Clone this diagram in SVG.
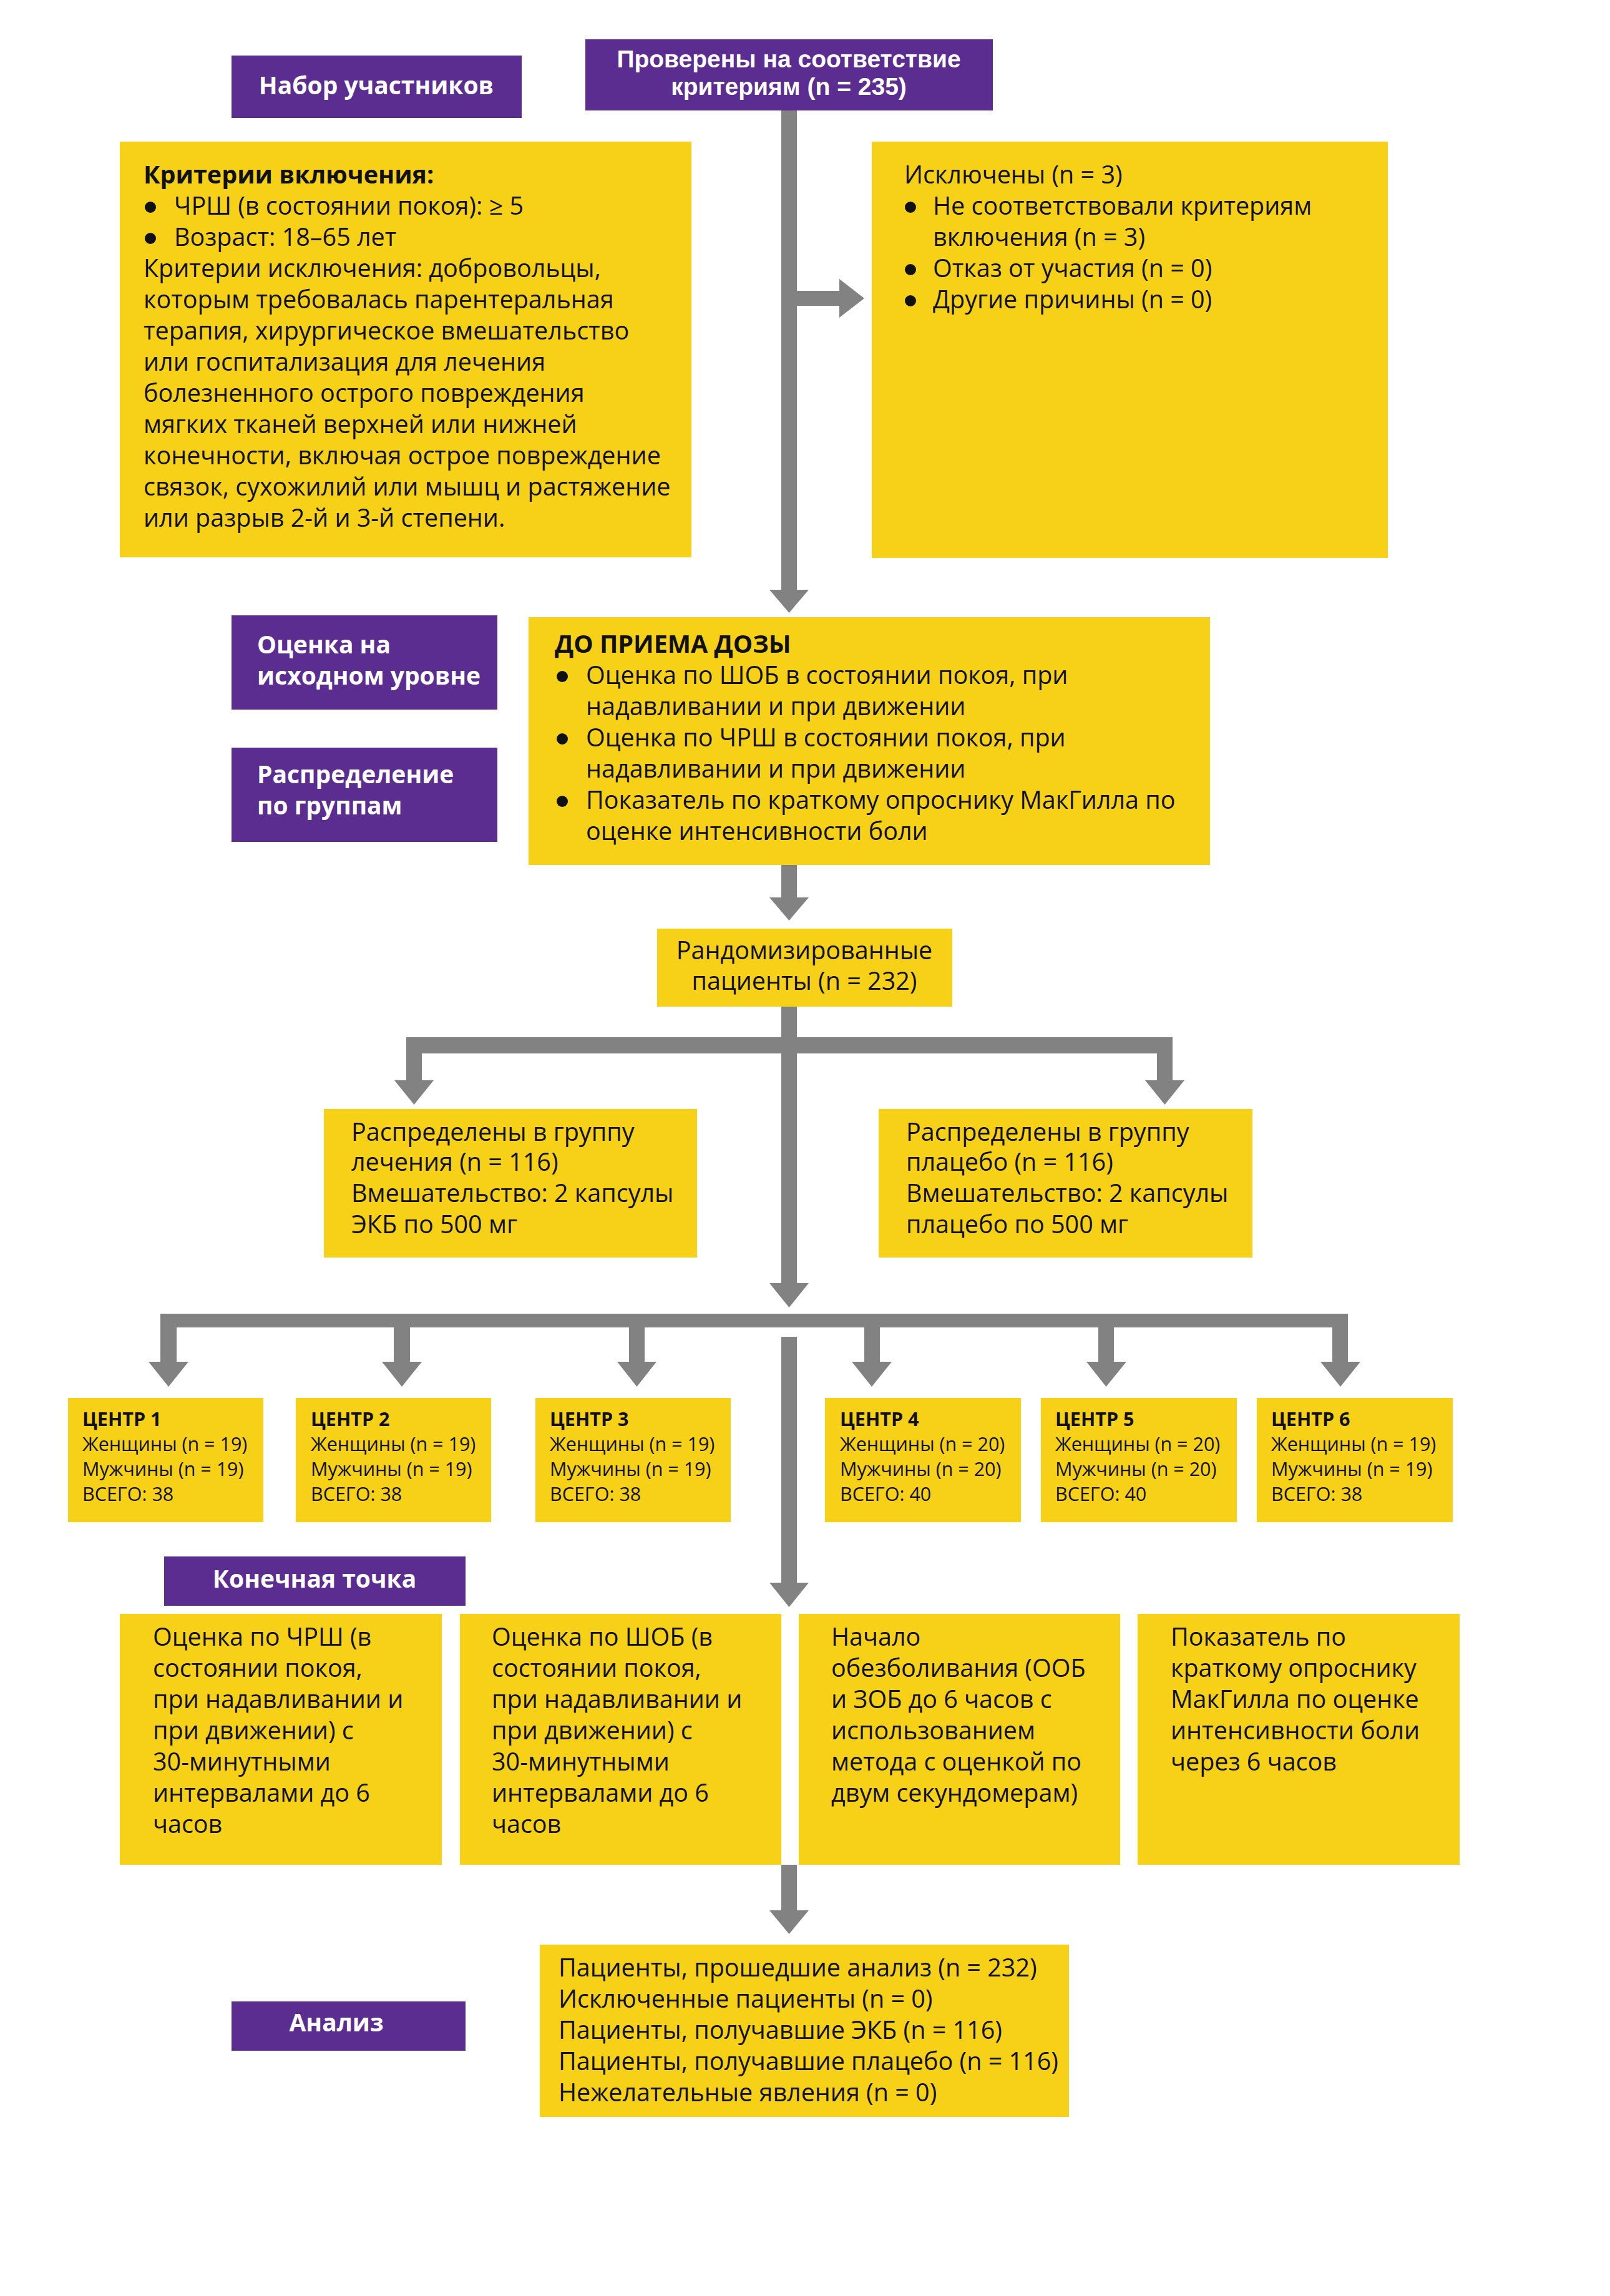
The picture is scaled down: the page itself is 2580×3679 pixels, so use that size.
<svg xmlns="http://www.w3.org/2000/svg" width="2580" height="3679" viewBox="0 0 2580 3679">
<style>
.bg{fill:#ffffff}
.yb{fill:#F7D117}
.pb{fill:#5C2D91}
.con{fill:#828282}
.t{font-family:"Open Sans","Liberation Sans",sans-serif;font-size:39.5px;fill:#111111}
.b{font-weight:bold}
.w{font-family:"Open Sans","Liberation Sans",sans-serif;font-size:39px;font-weight:bold;fill:#ffffff}
.wh{font-family:"Liberation Sans","Open Sans",sans-serif;font-size:39px}
.c{text-anchor:middle}
.s{font-family:"Open Sans","Liberation Sans",sans-serif;font-size:30.5px;fill:#111111}
.bul{fill:#111111}
</style>
<rect class="bg" x="0" y="0" width="2580" height="3679"/>

<g id="connectors">
  <rect class="con" x="1252" y="177" width="25" height="768"/>
  <polygon class="con" points="1233,945 1296,945 1264.5,982"/>
  <rect class="con" x="1277" y="466" width="68" height="24"/>
  <polygon class="con" points="1345,447 1345,509 1385,478"/>
  <rect class="con" x="1252" y="1386" width="25" height="52"/>
  <polygon class="con" points="1233,1438 1296,1438 1264.5,1475"/>
  <rect class="con" x="1252" y="1613" width="25" height="443"/>
  <polygon class="con" points="1233,2056 1296,2056 1264.5,2095"/>
  <rect class="con" x="651" y="1662" width="1228" height="26"/>
  <rect class="con" x="651" y="1688" width="25" height="43"/>
  <polygon class="con" points="632,1731 695,1731 663.5,1770"/>
  <rect class="con" x="1854" y="1688" width="25" height="43"/>
  <polygon class="con" points="1835,1731 1898,1731 1866.5,1770"/>
  <rect class="con" x="257" y="2105" width="1903" height="22"/>
  <rect class="con" x="257" y="2127" width="26" height="55"/>
  <polygon class="con" points="238,2182 302,2182 270,2222"/>
  <rect class="con" x="631" y="2127" width="26" height="55"/>
  <polygon class="con" points="612,2182 676,2182 644,2222"/>
  <rect class="con" x="1008" y="2127" width="25" height="55"/>
  <polygon class="con" points="989,2182 1052,2182 1020.5,2222"/>
  <rect class="con" x="1385" y="2127" width="25" height="55"/>
  <polygon class="con" points="1365,2182 1429,2182 1397,2222"/>
  <rect class="con" x="1760" y="2127" width="25" height="55"/>
  <polygon class="con" points="1741,2182 1805,2182 1772.5,2222"/>
  <rect class="con" x="2135" y="2127" width="25" height="55"/>
  <polygon class="con" points="2116,2182 2180,2182 2148,2222"/>
  <rect class="con" x="1252" y="2142" width="25" height="394"/>
  <polygon class="con" points="1233,2536 1296,2536 1264.5,2575"/>
  <rect class="con" x="1252" y="2988" width="25" height="73"/>
  <polygon class="con" points="1233,3061 1296,3061 1264.5,3099"/>
</g>

<g id="label-recruit">
  <rect class="pb" x="371" y="89" width="465" height="100"/>
  <text class="w c" x="603" y="151">Набор участников</text>
</g>

<g id="screened">
  <rect class="pb" x="938" y="63" width="653" height="114"/>
  <text class="w wh c" x="1264" y="108">Проверены на соответствие</text>
  <text class="w wh c" x="1264" y="152">критериям (n = 235)</text>
</g>

<g id="criteria">
  <rect class="yb" x="192" y="227" width="916" height="666"/>
  <text class="t b" x="230" y="294">Критерии включения:</text>
  <circle class="bul" cx="241" cy="332" r="9"/>
  <text class="t" x="279" y="344">ЧРШ (в состоянии покоя): ≥ 5</text>
  <circle class="bul" cx="241" cy="382" r="9"/>
  <text class="t" x="279" y="394">Возраст: 18–65 лет</text>
  <text class="t" x="230" y="444">Критерии исключения: добровольцы,</text>
  <text class="t" x="230" y="494">которым требовалась парентеральная</text>
  <text class="t" x="230" y="544">терапия, хирургическое вмешательство</text>
  <text class="t" x="230" y="594">или госпитализация для лечения</text>
  <text class="t" x="230" y="644">болезненного острого повреждения</text>
  <text class="t" x="230" y="694">мягких тканей верхней или нижней</text>
  <text class="t" x="230" y="744">конечности, включая острое повреждение</text>
  <text class="t" x="230" y="794">связок, сухожилий или мышц и растяжение</text>
  <text class="t" x="230" y="844">или разрыв 2-й и 3-й степени.</text>
</g>

<g id="excluded">
  <rect class="yb" x="1397" y="227" width="827" height="667"/>
  <text class="t" x="1449" y="294">Исключены (n = 3)</text>
  <circle class="bul" cx="1459" cy="332" r="9"/>
  <text class="t" x="1495" y="344">Не соответствовали критериям</text>
  <text class="t" x="1495" y="394">включения (n = 3)</text>
  <circle class="bul" cx="1459" cy="432" r="9"/>
  <text class="t" x="1495" y="444">Отказ от участия (n = 0)</text>
  <circle class="bul" cx="1459" cy="482" r="9"/>
  <text class="t" x="1495" y="494">Другие причины (n = 0)</text>
</g>

<g id="label-baseline">
  <rect class="pb" x="371" y="986" width="426" height="151"/>
  <text class="w" x="412" y="1047">Оценка на</text>
  <text class="w" x="412" y="1097">исходном уровне</text>
</g>

<g id="label-allocation">
  <rect class="pb" x="371" y="1198" width="426" height="151"/>
  <text class="w" x="412" y="1255">Распределение</text>
  <text class="w" x="412" y="1305">по группам</text>
</g>

<g id="predose">
  <rect class="yb" x="847" y="989" width="1092" height="397"/>
  <text class="t b" x="889" y="1046">ДО ПРИЕМА ДОЗЫ</text>
  <circle class="bul" cx="901" cy="1084" r="9"/>
  <text class="t" x="939" y="1096">Оценка по ШОБ в состоянии покоя, при</text>
  <text class="t" x="939" y="1146">надавливании и при движении</text>
  <circle class="bul" cx="901" cy="1184" r="9"/>
  <text class="t" x="939" y="1196">Оценка по ЧРШ в состоянии покоя, при</text>
  <text class="t" x="939" y="1246">надавливании и при движении</text>
  <circle class="bul" cx="901" cy="1284" r="9"/>
  <text class="t" x="939" y="1296">Показатель по краткому опроснику МакГилла по</text>
  <text class="t" x="939" y="1346">оценке интенсивности боли</text>
</g>

<g id="randomized">
  <rect class="yb" x="1053" y="1488" width="473" height="125"/>
  <text class="t c" x="1289" y="1537">Рандомизированные</text>
  <text class="t c" x="1289" y="1586">пациенты (n = 232)</text>
</g>

<g id="treatment">
  <rect class="yb" x="519" y="1777" width="598" height="238"/>
  <text class="t" x="563" y="1828">Распределены в группу</text>
  <text class="t" x="563" y="1876">лечения (n = 116)</text>
  <text class="t" x="563" y="1926">Вмешательство: 2 капсулы</text>
  <text class="t" x="563" y="1976">ЭКБ по 500 мг</text>
</g>

<g id="placebo">
  <rect class="yb" x="1408" y="1777" width="599" height="238"/>
  <text class="t" x="1452" y="1828">Распределены в группу</text>
  <text class="t" x="1452" y="1876">плацебо (n = 116)</text>
  <text class="t" x="1452" y="1926">Вмешательство: 2 капсулы</text>
  <text class="t" x="1452" y="1976">плацебо по 500 мг</text>
</g>

<g id="center1">
  <rect class="yb" x="109" y="2240" width="313" height="199"/>
  <text class="s b" x="132" y="2285">ЦЕНТР 1</text>
  <text class="s" x="132" y="2325">Женщины (n = 19)</text>
  <text class="s" x="132" y="2365">Мужчины (n = 19)</text>
  <text class="s" x="132" y="2405">ВСЕГО: 38</text>
</g>
<g id="center2">
  <rect class="yb" x="474" y="2240" width="313" height="199"/>
  <text class="s b" x="498" y="2285">ЦЕНТР 2</text>
  <text class="s" x="498" y="2325">Женщины (n = 19)</text>
  <text class="s" x="498" y="2365">Мужчины (n = 19)</text>
  <text class="s" x="498" y="2405">ВСЕГО: 38</text>
</g>
<g id="center3">
  <rect class="yb" x="858" y="2240" width="313" height="199"/>
  <text class="s b" x="881" y="2285">ЦЕНТР 3</text>
  <text class="s" x="881" y="2325">Женщины (n = 19)</text>
  <text class="s" x="881" y="2365">Мужчины (n = 19)</text>
  <text class="s" x="881" y="2405">ВСЕГО: 38</text>
</g>
<g id="center4">
  <rect class="yb" x="1322" y="2240" width="314" height="199"/>
  <text class="s b" x="1346" y="2285">ЦЕНТР 4</text>
  <text class="s" x="1346" y="2325">Женщины (n = 20)</text>
  <text class="s" x="1346" y="2365">Мужчины (n = 20)</text>
  <text class="s" x="1346" y="2405">ВСЕГО: 40</text>
</g>
<g id="center5">
  <rect class="yb" x="1668" y="2240" width="314" height="199"/>
  <text class="s b" x="1691" y="2285">ЦЕНТР 5</text>
  <text class="s" x="1691" y="2325">Женщины (n = 20)</text>
  <text class="s" x="1691" y="2365">Мужчины (n = 20)</text>
  <text class="s" x="1691" y="2405">ВСЕГО: 40</text>
</g>
<g id="center6">
  <rect class="yb" x="2014" y="2240" width="314" height="199"/>
  <text class="s b" x="2037" y="2285">ЦЕНТР 6</text>
  <text class="s" x="2037" y="2325">Женщины (n = 19)</text>
  <text class="s" x="2037" y="2365">Мужчины (n = 19)</text>
  <text class="s" x="2037" y="2405">ВСЕГО: 38</text>
</g>

<g id="label-endpoint">
  <rect class="pb" x="263" y="2494" width="483" height="79"/>
  <text class="w c" x="504" y="2544">Конечная точка</text>
</g>

<g id="endpoint1">
  <rect class="yb" x="192" y="2586" width="516" height="402"/>
  <text class="t" x="245" y="2637">Оценка по ЧРШ (в</text>
  <text class="t" x="245" y="2687">состоянии покоя,</text>
  <text class="t" x="245" y="2737">при надавливании и</text>
  <text class="t" x="245" y="2787">при движении) с</text>
  <text class="t" x="245" y="2837">30-минутными</text>
  <text class="t" x="245" y="2887">интервалами до 6</text>
  <text class="t" x="245" y="2937">часов</text>
</g>
<g id="endpoint2">
  <rect class="yb" x="737" y="2586" width="515" height="402"/>
  <text class="t" x="788" y="2637">Оценка по ШОБ (в</text>
  <text class="t" x="788" y="2687">состоянии покоя,</text>
  <text class="t" x="788" y="2737">при надавливании и</text>
  <text class="t" x="788" y="2787">при движении) с</text>
  <text class="t" x="788" y="2837">30-минутными</text>
  <text class="t" x="788" y="2887">интервалами до 6</text>
  <text class="t" x="788" y="2937">часов</text>
</g>
<g id="endpoint3">
  <rect class="yb" x="1280" y="2586" width="515" height="402"/>
  <text class="t" x="1332" y="2637">Начало</text>
  <text class="t" x="1332" y="2687">обезболивания (ООБ</text>
  <text class="t" x="1332" y="2737">и ЗОБ до 6 часов с</text>
  <text class="t" x="1332" y="2787">использованием</text>
  <text class="t" x="1332" y="2837">метода с оценкой по</text>
  <text class="t" x="1332" y="2887">двум секундомерам)</text>
</g>
<g id="endpoint4">
  <rect class="yb" x="1823" y="2586" width="516" height="402"/>
  <text class="t" x="1876" y="2637">Показатель по</text>
  <text class="t" x="1876" y="2687">краткому опроснику</text>
  <text class="t" x="1876" y="2737">МакГилла по оценке</text>
  <text class="t" x="1876" y="2787">интенсивности боли</text>
  <text class="t" x="1876" y="2837">через 6 часов</text>
</g>

<g id="label-analysis">
  <rect class="pb" x="371" y="3207" width="375" height="79"/>
  <text class="w c" x="539" y="3255">Анализ</text>
</g>

<g id="analysis">
  <rect class="yb" x="865" y="3116" width="848" height="276"/>
  <text class="t" x="895" y="3167">Пациенты, прошедшие анализ (n = 232)</text>
  <text class="t" x="895" y="3217">Исключенные пациенты (n = 0)</text>
  <text class="t" x="895" y="3267">Пациенты, получавшие ЭКБ (n = 116)</text>
  <text class="t" x="895" y="3317">Пациенты, получавшие плацебо (n = 116)</text>
  <text class="t" x="895" y="3367">Нежелательные явления (n = 0)</text>
</g>
</svg>
